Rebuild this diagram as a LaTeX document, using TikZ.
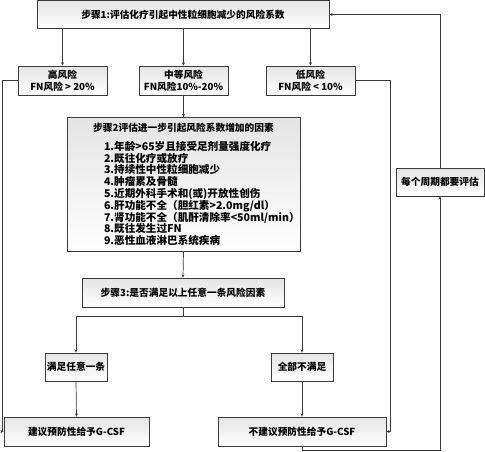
\documentclass[tikz,border=0pt]{standalone}
\usepackage{fontspec}
\setmainfont{Noto Sans CJK SC}
\usetikzlibrary{arrows.meta,shadings}
\definecolor{edge}{HTML}{3A3A3A}
\definecolor{boxtop}{HTML}{E4E4E4}

\tikzset{
  box/.style={draw=edge, line width=0.8pt, top color=boxtop, bottom color=white,
    inner sep=0pt, align=center, font=\fontsize{9.7}{12.3}\selectfont\bfseries},
  arr/.style={draw=edge, line width=0.7pt, -{Stealth[length=3.2pt,width=2.8pt]}},
  line/.style={draw=edge, line width=0.7pt}
}

\begin{document}
\begin{tikzpicture}[x=1pt, y=-1pt]
  \useasboundingbox (0,0) rectangle (485,451);
  % step 1 and risk levels
  \node[box, minimum width=292pt, minimum height=28pt] (step1) at (183,14.5)
    {步骤1:评估化疗引起中性粒细胞减少的风险系数};
  \node[box, minimum width=89pt, minimum height=29pt] (high) at (62.5,80.5)
    {高风险\\FN风险 > 20\%};
  \node[box, minimum width=89pt, minimum height=29pt] (mid) at (183.5,80.5)
    {中等风险\\FN风险10\%-20\%};
  \node[box, minimum width=89pt, minimum height=29pt] (low) at (310.5,80.5)
    {低风险\\FN风险 < 10\%};
  % step 2
  \node[box, minimum width=233pt, minimum height=134pt, text width=225pt] (step2) at (183.5,184.5)
    {\centering 步骤2评估进一步引起风险系数增加的因素\par\vspace{7pt}
     \raggedright\leftskip=33pt\fontsize{10.6}{11.8}\selectfont
     1.年龄>65岁且接受足剂量强度化疗\\
     2.既往化疗或放疗\\
     3.持续性中性粒细胞减少\\
     4.肿瘤累及骨髓\\
     5.近期外科手术和(或)开放性创伤\\
     6.肝功能不全（胆红素>2.0mg/dl）\\
     7.肾功能不全（肌酐清除率<50ml/min）\\
     8.既往发生过FN\\
     9.恶性血液淋巴系统疾病\par};
  % step 3 and outcomes
  \node[box, minimum width=202pt, minimum height=29pt] (step3) at (183,292.5)
    {步骤3:是否满足以上任意一条风险因素};
  \node[box, minimum width=62pt, minimum height=28pt] (meet) at (76,367) {满足任意一条};
  \node[box, minimum width=62pt, minimum height=28pt] (none) at (302,367) {全部不满足};
  \node[box, minimum width=145pt, minimum height=29pt] (yes) at (76.5,431.5) {建议预防性给予G-CSF};
  \node[box, minimum width=168pt, minimum height=29pt] (no) at (302,431.5) {不建议预防性给予G-CSF};
  \node[box, minimum width=88pt, minimum height=28pt] (eval) at (440,182) {每个周期都要评估};
  \coordinate (split) at (183,316);

  \draw[arr] (high |- step1.south) -- (high.north);
  \draw[arr] (mid |- step1.south) -- (mid.north);
  \draw[arr] (low |- step1.south) -- (low.north);
  \draw[arr] (mid.south) -- (step2.north);
  \draw[arr] (step2.south) -- (step3.north);
  \draw[line] (step3.south) -- (split);
  \draw[arr] (split) -| (meet.north);
  \draw[arr] (split) -| (none.north);
  \draw[arr] (meet.south) -- (yes.north);
  \draw[arr] (none.south) -- (no.north);
  \draw[arr] (high.west) -- ++(-15,0) |- (yes.west);
  \draw[arr] (low.east) -- ++(35,0) |- (no.east);
  \draw[arr] (no.south) -- ++(0,4) -| (eval.south);
  \draw[arr] (eval.north) |- (step1.east);
\end{tikzpicture}
\end{document}
